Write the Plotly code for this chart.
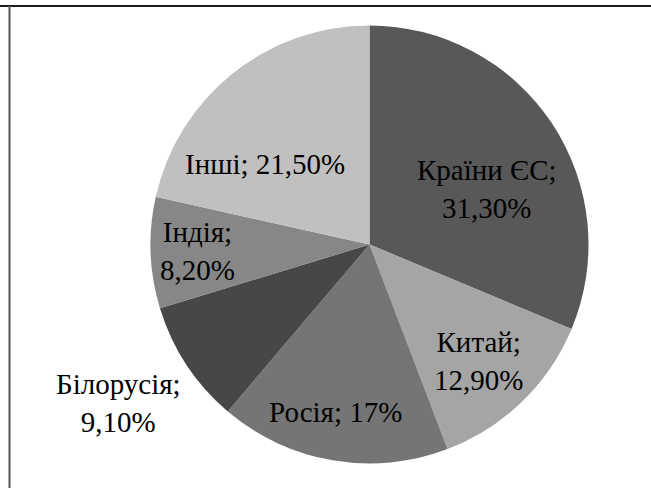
import math
import plotly.graph_objects as go

W, H = 651, 488

categories = ["Країни ЄС", "Китай", "Росія", "Білорусія", "Індія", "Інші"]
shares = [31.3, 12.9, 17.0, 9.1, 8.2, 21.5]
value_labels = ["31,30%", "12,90%", "17%", "9,10%", "8,20%", "21,50%"]
line_break = [True, True, False, True, True, False]
colors = ["#585858", "#a5a5a5", "#757575", "#474747", "#878787", "#c0c0c0"]

# label placement (layout): radial fraction of radius and angular offset from slice middle (deg)
label_rf = [0.593, 0.727, 0.78, 1.356, 0.788, 0.602]
label_dtheta = [8.4, 1.1, 1.6, 1.0, 0.0, -13.7]

texts = [f"{c};<br>{v}" if br else f"{c}; {v}"
         for c, v, br in zip(categories, value_labels, line_break)]

FONT = "Liberation Serif, Times New Roman, serif"
FS = 29

cx, cy, r = 369.5, 244.5, 219
fig = go.Figure(go.Pie(
    labels=categories,
    values=shares,
    textinfo="none",
    sort=False,
    direction="clockwise",
    rotation=0,
    marker=dict(colors=colors, line=dict(width=0)),
    hoverinfo="label+percent",
    showlegend=False,
    domain=dict(x=[(cx - r) / W, (cx + r) / W],
                y=[(H - cy - r) / H, (H - cy + r) / H]),
))

total = sum(shares)
annotations = []
cum = 0.0
for txt, s, rf, dth in zip(texts, shares, label_rf, label_dtheta):
    mid = (cum + s / 2) / total * 360.0
    cum += s
    th = math.radians(mid + dth)
    px = cx + rf * r * math.sin(th)
    py = cy - rf * r * math.cos(th)
    annotations.append(dict(
        x=px / W, y=1 - py / H, xref="paper", yref="paper",
        text=txt, showarrow=False, align="center",
        xanchor="center", yanchor="middle",
        font=dict(family=FONT, size=FS, color="#000000"),
    ))

fig.update_layout(
    width=W, height=H,
    margin=dict(l=0, r=0, t=0, b=0),
    paper_bgcolor="white",
    plot_bgcolor="white",
    font=dict(family=FONT, size=FS, color="#000000"),
    annotations=annotations,
    shapes=[
        dict(type="line", xref="paper", yref="paper", x0=0, x1=1,
             y0=1 - 6 / H, y1=1 - 6 / H, line=dict(color="#1e1e1e", width=2)),
        dict(type="line", xref="paper", yref="paper", x0=9.5 / W, x1=9.5 / W,
             y0=0, y1=1 - 6 / H, line=dict(color="#555555", width=2)),
    ],
)

fig.write_html("out.html", config={"displayModeBar": False},
               post_script="document.body.style.margin='0';document.body.style.padding='0';")
